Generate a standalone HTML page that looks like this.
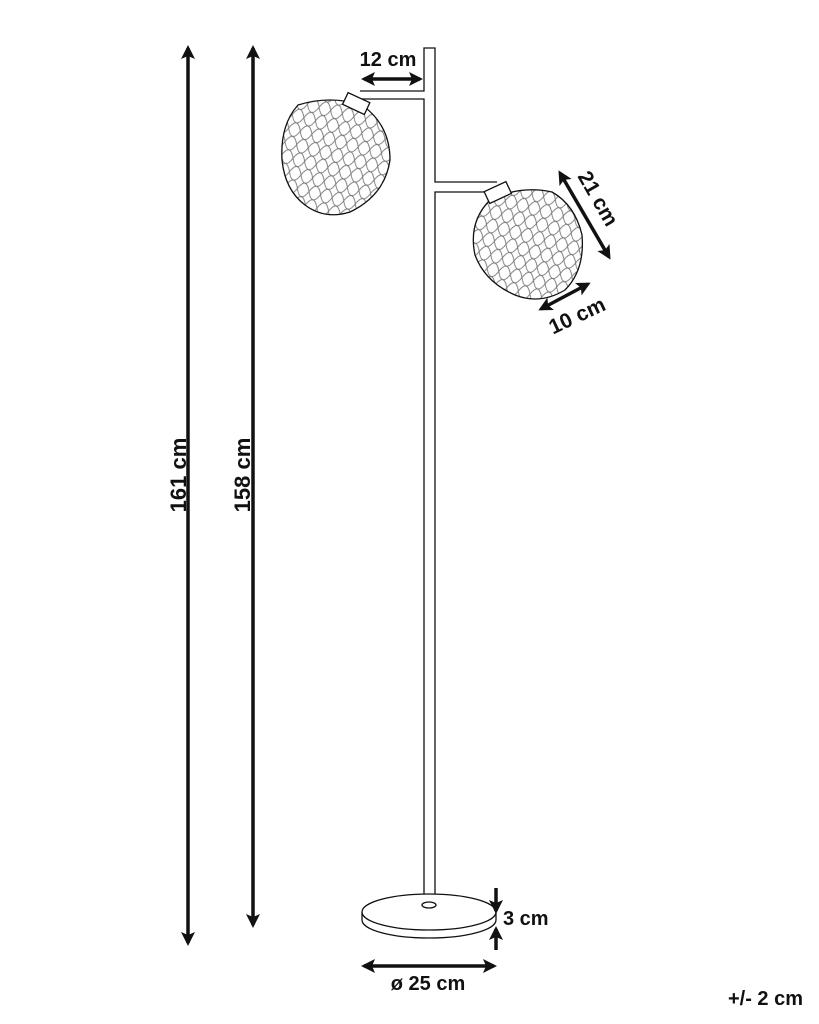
<!DOCTYPE html>
<html><head><style>
html,body{margin:0;padding:0;background:#fff}
svg{display:block}
text{font-family:"Liberation Sans",sans-serif;font-weight:bold;fill:#111}
</style></head><body>
<svg width="819" height="1024" viewBox="0 0 819 1024" xmlns="http://www.w3.org/2000/svg">
<defs>
<marker id="ah" markerWidth="14" markerHeight="14" refX="11" refY="7" orient="auto-start-reverse" markerUnits="userSpaceOnUse" viewBox="0 0 14 14">
<path d="M0,0 L14,7 L0,14 L3,7 z" fill="#111"/></marker>
<pattern id="mesh" width="12" height="14" patternUnits="userSpaceOnUse" patternTransform="rotate(15)">
<path d="M0,7 Q3,0 6,0 Q9,0 12,7 M0,7 Q3,14 6,14 Q9,14 12,7" fill="none" stroke="#777" stroke-width="0.9"/>
</pattern>
</defs>
<g stroke="#111" fill="none" stroke-width="1.3">
<path d="M424,912 L424,99 L360,99 M360,91 L424,91 L424,48 L435,48 L435,182 L497,182 M497,192 L435,192 L435,912" fill="#fff"/>
<path d="M362,912 L362,920 A67,18 0 0 0 496,920 L496,912" fill="#fff"/>
<ellipse cx="429" cy="912" rx="67" ry="18" fill="#fff"/>
<ellipse cx="429" cy="905" rx="7" ry="3" fill="#fff"/>
<path d="M298,105 Q330,95 362,105 Q390,125 390,160 Q385,195 350,212 Q325,220 305,205 Q285,190 282,160 Q280,125 298,105 Z" fill="url(#mesh)"/>
<g transform="rotate(25 356 104)"><rect x="344" y="97" width="24" height="13" fill="#fff"/></g>
<path d="M490,200 Q520,185 552,192 Q575,205 582,235 Q585,270 565,290 Q540,305 515,295 Q485,282 475,255 Q468,222 490,200 Z" fill="url(#mesh)"/>
<g transform="rotate(-25 498 193)"><rect x="486" y="186" width="24" height="13" fill="#fff"/></g>
</g>
<g stroke="#111" stroke-width="3.5" fill="none">
<line x1="188" y1="48" x2="188" y2="943" marker-start="url(#ah)" marker-end="url(#ah)"/>
<line x1="253" y1="48" x2="253" y2="925" marker-start="url(#ah)" marker-end="url(#ah)"/>
<line x1="364" y1="79" x2="420" y2="79" marker-start="url(#ah)" marker-end="url(#ah)"/>
<line x1="560" y1="173" x2="609" y2="257" marker-start="url(#ah)" marker-end="url(#ah)"/>
<line x1="541" y1="309" x2="588" y2="284" marker-start="url(#ah)" marker-end="url(#ah)"/>
<line x1="364" y1="966" x2="494" y2="966" marker-start="url(#ah)" marker-end="url(#ah)"/>
<line x1="496" y1="888" x2="496" y2="911" marker-end="url(#ah)"/>
<line x1="496" y1="950" x2="496" y2="929" marker-end="url(#ah)"/>
</g>
<text x="388" y="66" font-size="20" text-anchor="middle">12 cm</text>
<text transform="translate(186,475) rotate(-90)" font-size="22" text-anchor="middle">161 cm</text>
<text transform="translate(250,475) rotate(-90)" font-size="22" text-anchor="middle">158 cm</text>
<text transform="translate(592,202) rotate(60)" font-size="21" text-anchor="middle">21 cm</text>
<text transform="translate(580,322) rotate(-25)" font-size="21" text-anchor="middle">10 cm</text>
<text x="503" y="925" font-size="20">3 cm</text>
<text x="428" y="990" font-size="20" text-anchor="middle">ø 25 cm</text>
<text x="803" y="1005" font-size="20" text-anchor="end">+/- 2 cm</text>
</svg>
</body></html>
